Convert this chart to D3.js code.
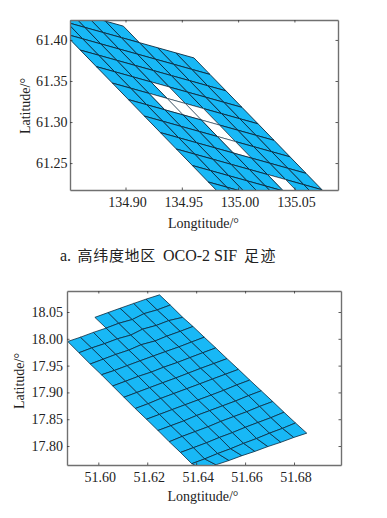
<!DOCTYPE html>
<html>
<head>
<meta charset="utf-8">
<script src="https://cdn.jsdelivr.net/npm/d3@7"></script>
<style>
  body { margin: 0; background: #fff; }
  text { font-family: "Liberation Serif", serif; fill: #222; }
</style>
</head>
<body>
<script>
// footprint corners: rows run along the track, columns across it
const lonA = [
  [134.9466, 134.9304, 134.9143, 134.8981, 134.8820, 134.8658, 134.8496, 134.8335, 134.8173],
  [134.9608, 134.9446, 134.9285, 134.9123, 134.8962, 134.8800, 134.8638, 134.8477, 134.8315],
  [134.9750, 134.9588, 134.9427, 134.9265, 134.9104, 134.8942, 134.8780, 134.8619, 134.8457],
  [134.9892, 134.9730, 134.9569, 134.9407, 134.9246, 134.9084, 134.8922, 134.8761, 134.8599],
  [135.0034, 134.9872, 134.9711, 134.9549, 134.9388, 134.9226, 134.9064, 134.8903, 134.8741],
  [135.0177, 135.0015, 134.9854, 134.9692, 134.9531, 134.9369, 134.9207, 134.9046, 134.8884],
  [135.0319, 135.0157, 134.9996, 134.9834, 134.9673, 134.9511, 134.9349, 134.9188, 134.9026],
  [135.0461, 135.0299, 135.0138, 134.9976, 134.9815, 134.9653, 134.9491, 134.9330, 134.9168],
  [135.0603, 135.0441, 135.0280, 135.0118, 134.9957, 134.9795, 134.9633, 134.9472, 134.9310],
  [135.0745, 135.0583, 135.0422, 135.0260, 135.0099, 134.9937, 134.9775, 134.9614, 134.9452],
  [135.0887, 135.0725, 135.0564, 135.0402, 135.0241, 135.0079, 134.9917, 134.9756, 134.9594],
  [135.1029, 135.0867, 135.0706, 135.0544, 135.0383, 135.0221, 135.0059, 134.9898, 134.9736],
  [135.1171, 135.1009, 135.0848, 135.0686, 135.0525, 135.0363, 135.0201, 135.0040, 134.9878]
];
const latA = [
  [61.3982, 61.4044, 61.4106, 61.4168, 61.4230, 61.4292, 61.4354, 61.4416, 61.4478],
  [61.3781, 61.3843, 61.3905, 61.3967, 61.4029, 61.4091, 61.4153, 61.4215, 61.4277],
  [61.3580, 61.3642, 61.3704, 61.3766, 61.3828, 61.3890, 61.3952, 61.4014, 61.4076],
  [61.3380, 61.3442, 61.3504, 61.3566, 61.3628, 61.3690, 61.3752, 61.3814, 61.3876],
  [61.3179, 61.3241, 61.3303, 61.3365, 61.3427, 61.3489, 61.3551, 61.3613, 61.3675],
  [61.2978, 61.3040, 61.3102, 61.3164, 61.3226, 61.3288, 61.3350, 61.3412, 61.3474],
  [61.2777, 61.2839, 61.2901, 61.2963, 61.3025, 61.3087, 61.3149, 61.3211, 61.3273],
  [61.2576, 61.2638, 61.2700, 61.2762, 61.2824, 61.2886, 61.2948, 61.3010, 61.3072],
  [61.2375, 61.2437, 61.2499, 61.2561, 61.2623, 61.2685, 61.2747, 61.2809, 61.2871],
  [61.2175, 61.2237, 61.2299, 61.2361, 61.2423, 61.2485, 61.2547, 61.2609, 61.2671],
  [61.1974, 61.2036, 61.2098, 61.2160, 61.2222, 61.2284, 61.2346, 61.2408, 61.2470],
  [61.1773, 61.1835, 61.1897, 61.1959, 61.2021, 61.2083, 61.2145, 61.2207, 61.2269],
  [61.1573, 61.1635, 61.1697, 61.1759, 61.1821, 61.1883, 61.1945, 61.2007, 61.2069]
];
const missingA = [[0, 0], [0, 1], [0, 2]];
const whiteA = [[4, 4], [5, 5], [5, 4], [5, 3], [6, 3], [7, 3], [9, 2]];

const lonB = [
  [51.5829, 51.5881, 51.5934, 51.5986, 51.6040, 51.6089, 51.6145, 51.6195, 51.6250],
  [51.5875, 51.5927, 51.5980, 51.6032, 51.6084, 51.6139, 51.6187, 51.6241, 51.6294],
  [51.5921, 51.5973, 51.6026, 51.6078, 51.6133, 51.6181, 51.6237, 51.6288, 51.6345],
  [51.5967, 51.6020, 51.6072, 51.6125, 51.6175, 51.6232, 51.6280, 51.6335, 51.6387],
  [51.6013, 51.6066, 51.6118, 51.6171, 51.6225, 51.6274, 51.6330, 51.6381, 51.6433],
  [51.6059, 51.6112, 51.6164, 51.6217, 51.6267, 51.6324, 51.6375, 51.6427, 51.6480],
  [51.6105, 51.6158, 51.6210, 51.6263, 51.6317, 51.6368, 51.6419, 51.6473, 51.6526],
  [51.6151, 51.6204, 51.6256, 51.6309, 51.6362, 51.6415, 51.6467, 51.6520, 51.6573],
  [51.6197, 51.6250, 51.6302, 51.6355, 51.6408, 51.6461, 51.6513, 51.6566, 51.6619],
  [51.6244, 51.6297, 51.6350, 51.6402, 51.6455, 51.6508, 51.6561, 51.6614, 51.6666],
  [51.6290, 51.6343, 51.6396, 51.6449, 51.6501, 51.6554, 51.6607, 51.6660, 51.6713],
  [51.6336, 51.6389, 51.6442, 51.6495, 51.6548, 51.6601, 51.6653, 51.6706, 51.6759],
  [51.6382, 51.6435, 51.6488, 51.6541, 51.6594, 51.6647, 51.6700, 51.6753, 51.6806],
  [51.6428, 51.6481, 51.6534, 51.6587, 51.6640, 51.6693, 51.6746, 51.6799, 51.6852]
];
const latB = [
  [18.015, 18.024, 18.032, 18.040, 18.049, 18.057, 18.066, 18.074, 18.082],
  [17.995, 18.003, 18.012, 18.020, 18.029, 18.036, 18.047, 18.054, 18.063],
  [17.974, 17.983, 17.991, 18.000, 18.007, 18.018, 18.025, 18.034, 18.040],
  [17.953, 17.962, 17.971, 17.979, 17.989, 17.996, 18.005, 18.014, 18.023],
  [17.933, 17.941, 17.950, 17.959, 17.968, 17.976, 17.985, 17.994, 18.003],
  [17.912, 17.921, 17.930, 17.938, 17.947, 17.956, 17.965, 17.974, 17.983],
  [17.891, 17.900, 17.909, 17.918, 17.927, 17.936, 17.945, 17.954, 17.963],
  [17.870, 17.879, 17.889, 17.898, 17.907, 17.916, 17.925, 17.934, 17.943],
  [17.850, 17.859, 17.868, 17.877, 17.886, 17.895, 17.904, 17.914, 17.923],
  [17.829, 17.838, 17.847, 17.857, 17.866, 17.875, 17.884, 17.894, 17.903],
  [17.808, 17.818, 17.827, 17.836, 17.846, 17.855, 17.864, 17.874, 17.883],
  [17.788, 17.797, 17.806, 17.816, 17.825, 17.835, 17.844, 17.853, 17.863],
  [17.767, 17.776, 17.786, 17.795, 17.805, 17.814, 17.824, 17.833, 17.843],
  [17.757, 17.765, 17.773, 17.782, 17.790, 17.799, 17.807, 17.816, 17.824]
];
const missingB = [[0, 0], [0, 1], [0, 2]];
const whiteB = [];

const xTicksA = [134.90, 134.95, 135.00, 135.05];
const yTicksA = [61.25, 61.30, 61.35, 61.40];
const xTicksB = [51.60, 51.62, 51.64, 51.66, 51.68];
const yTicksB = [17.80, 17.85, 17.90, 17.95, 18.00, 18.05];

const xLabel = "Longtitude/°";
const yLabel = "Latitude/°";

const svg = d3.select("body")
    .append("svg")
    .attr("width", 387)
    .attr("height", 518);

function drawPanel(id, p) {
    const x = d3.scaleLinear().domain(p.xDomain).range([p.left, p.right]);
    const y = d3.scaleLinear().domain(p.yDomain).range([p.bottom, p.top]);

    svg.append("clipPath").attr("id", id)
        .append("rect")
        .attr("x", p.left).attr("y", p.top)
        .attr("width", p.right - p.left).attr("height", p.bottom - p.top);

    const outline = d3.line()
        .x(d => x(d[0]))
        .y(d => y(d[1]))
        .curve(d3.curveLinearClosed);

    const isIn = (list, r, c) => list.some(d => d[0] === r && d[1] === c);
    const cells = [];
    for (let r = 0; r < p.lon.length - 1; r++) {
        for (let c = 0; c < p.lon[r].length - 1; c++) {
            if (isIn(p.missing, r, c)) continue;
            cells.push({
                white: isIn(p.white, r, c),
                corners: [
                    [p.lon[r][c], p.lat[r][c]],
                    [p.lon[r][c + 1], p.lat[r][c + 1]],
                    [p.lon[r + 1][c + 1], p.lat[r + 1][c + 1]],
                    [p.lon[r + 1][c], p.lat[r + 1][c]]
                ]
            });
        }
    }

    svg.append("g")
        .attr("clip-path", `url(#${id})`)
        .selectAll("path")
        .data(cells)
        .join("path")
        .attr("d", d => outline(d.corners))
        .attr("fill", d => d.white ? "#fff" : "#18b8f6")
        .attr("stroke", "#0b2a3f")
        .attr("stroke-width", d => d.white ? 0.6 : p.lineWidth);

    // marco gris con marcas hacia dentro
    const fmt = d3.format(".2f");
    const axes = [
        [d3.axisBottom(x).tickValues(p.xTicks).tickFormat(fmt), `translate(0,${p.bottom})`, p.xPad, 1.5],
        [d3.axisLeft(y).tickValues(p.yTicks).tickFormat(fmt), `translate(${p.left},0)`, p.yPad, 0],
        [d3.axisTop(x).tickValues(p.xTicks).tickFormat(""), `translate(0,${p.top})`, 0, 0],
        [d3.axisRight(y).tickValues(p.yTicks).tickFormat(""), `translate(${p.right},0)`, 0, 0]
    ];
    axes.forEach(a => {
        const g = svg.append("g")
            .attr("transform", a[1])
            .call(a[0].tickSizeInner(-2.5).tickSizeOuter(0).tickPadding(a[2]));
        g.select(".domain").attr("stroke", "#707070").attr("stroke-width", 1.4);
        g.selectAll(".tick line").attr("stroke", "#333").attr("stroke-width", 0.8);
        g.selectAll("text")
            .attr("dx", a[3])
            .style("font-family", '"Liberation Serif", serif')
            .style("font-size", "14px")
            .attr("fill", "#222");
    });

    svg.append("text")
        .attr("x", p.xLabelX).attr("y", p.xLabelY)
        .attr("text-anchor", "middle")
        .style("font-size", "14px")
        .text(xLabel);

    svg.append("text")
        .attr("transform", `translate(${p.yLabelX},${p.yLabelY}) rotate(-90)`)
        .attr("text-anchor", "middle")
        .style("font-size", "14px")
        .text(yLabel);
}

drawPanel("clipA", {
    lon: lonA, lat: latA, missing: missingA, white: whiteA,
    xDomain: [134.8507, 135.0887], yDomain: [61.2172, 61.4243],
    left: 70, right: 338, top: 20, bottom: 190,
    xTicks: xTicksA, yTicks: yTicksA, lineWidth: 0.9, xPad: 7.5, yPad: 2.5,
    xLabelX: 203.5, xLabelY: 228, yLabelX: 30, yLabelY: 106
});

drawPanel("clipB", {
    lon: lonB, lat: latB, missing: missingB, white: whiteB,
    xDomain: [51.5872, 51.6992], yDomain: [17.7646, 18.0892],
    left: 67, right: 341, top: 291, bottom: 465,
    xTicks: xTicksB, yTicks: yTicksB, lineWidth: 0.8, xPad: 7, yPad: 4,
    xLabelX: 203, xLabelY: 501, yLabelX: 24, yLabelY: 381
});

const caption = svg.append("text").attr("x", 60).attr("y", 261).style("font-size", "16px");
caption.append("tspan").text("a.");
caption.append("tspan").attr("x", 77.5)
    .style("font-family", '"Noto Sans CJK SC"').style("font-size", "15px").style("letter-spacing", "0.7px")
    .text("高纬度地区");
caption.append("tspan").attr("x", 163).text("OCO-2 SIF");
caption.append("tspan").attr("x", 244)
    .style("font-family", '"Noto Sans CJK SC"').style("font-size", "15px").style("letter-spacing", "1.5px")
    .text("足迹");
</script>
</body>
</html>
